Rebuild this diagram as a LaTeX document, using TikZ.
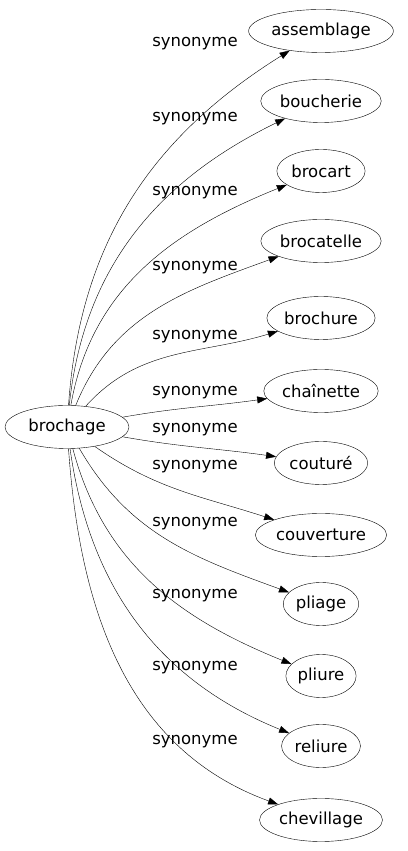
\documentclass[tikz,border=0pt]{standalone}
\usepackage{fontspec}
\setmainfont{DejaVu Sans}
\usetikzlibrary{shapes.geometric,arrows.meta}
\begin{document}
\begin{tikzpicture}[x=1pt,y=1pt]
			\tikzset{word/.style={draw,ellipse,inner xsep=1.5pt,minimum height=43pt,font=\fontsize{16.5}{19}\selectfont},
				syn/.style={font=\fontsize{16.5}{19}\selectfont},
				rel/.style={-{Triangle[length=10pt,width=7pt]}}}
			\useasboundingbox (0,0) rectangle (407,851);
			\node[word,minimum width=124pt] (brochage) at (67,424) {brochage};
			\node[word] (assemblage) at (321,820) {assemblage};
			\node[word] (boucherie) at (321,750) {boucherie};
			\node[word] (brocart) at (321,680) {brocart};
			\node[word] (brocatelle) at (321,610) {brocatelle};
			\node[word] (brochure) at (321,533) {brochure};
			\node[word] (chainette) at (321,460) {chaînette};
			\node[word] (couture) at (321,388) {couturé};
			\node[word] (couverture) at (321,316) {couverture};
			\node[word] (pliage) at (321,247) {pliage};
			\node[word] (pliure) at (321,175) {pliure};
			\node[word] (reliure) at (321,105) {reliure};
			\node[word] (chevillage) at (321,31) {chevillage};
			\draw[rel](brochage) to[out=86,in=212] (assemblage);
			\draw[rel](brochage) to[out=84,in=206] (boucherie);
			\draw[rel](brochage) to[out=80,in=202] (brocart);
			\draw[rel](brochage) to[out=68,in=200] (brocatelle);
			\draw[rel](brochage) to[out=48,in=197] (brochure);
			\draw[rel](brochage) to[out=10,in=188] (chainette);
			\draw[rel](brochage) to[out=-10,in=172] (couture);
			\draw[rel](brochage) to[out=-35,in=162] (couverture);
			\draw[rel](brochage) to[out=-60,in=160] (pliage);
			\draw[rel](brochage) to[out=-75,in=158] (pliure);
			\draw[rel](brochage) to[out=-82,in=158] (reliure);
			\draw[rel](brochage) to[out=-86,in=160] (chevillage);
			\node[syn] (s1) at (195,807) {synonyme};
			\node[syn] (s2) at (195,732) {synonyme};
			\node[syn] (s3) at (195,658) {synonyme};
			\node[syn] (s4) at (195,583) {synonyme};
			\node[syn] (s5) at (195,514) {synonyme};
			\node[syn] (s6) at (195,458) {synonyme};
			\node[syn] (s7) at (195,421) {synonyme};
			\node[syn] (s8) at (195,384) {synonyme};
			\node[syn] (s9) at (195,327) {synonyme};
			\node[syn] (s10) at (195,255) {synonyme};
			\node[syn] (s11) at (195,183) {synonyme};
			\node[syn] (s12) at (195,109) {synonyme};
		\end{tikzpicture}
\end{document}
